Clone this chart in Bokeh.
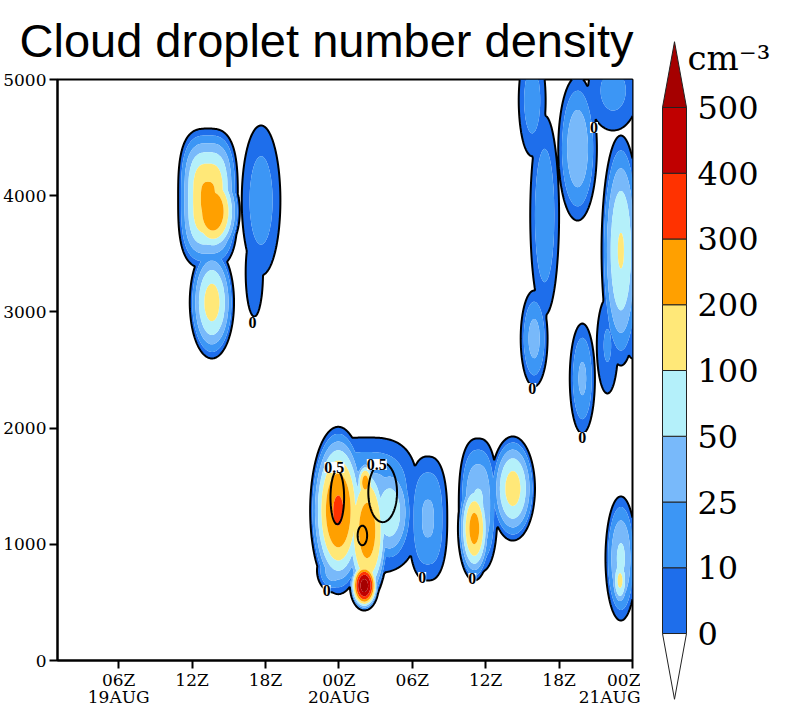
import numpy as np
from bokeh.plotting import figure
from bokeh.layouts import row
from bokeh.models import (Range1d, FixedTicker, LabelSet, ColumnDataSource,
                          LinearAxis)
from bokeh.core.properties import value
from bokeh.embed import file_html
from bokeh.resources import INLINE

# ---------------- data ----------------
# colour levels (cm^-3) and shading colours
levels = [0, 10, 25, 50, 100, 200, 300, 400, 500]
colors = ["#1E6EEB", "#3C96F5", "#78B9FA", "#B4F0FA", "#FFE878",
          "#FFA000", "#FF3200", "#C00000"]
over_color = "#A50000"

# time axis: hours since 00Z 19AUG
tick_hours = [6, 12, 18, 24, 30, 36, 42, 48]
tick_labels = ["06Z", "12Z", "18Z", "00Z", "06Z", "12Z", "18Z", "00Z"]
date_hours = [6, 24, 48]
date_labels = ["19AUG", "20AUG", "21AUG"]
height_ticks = [0, 1000, 2000, 3000, 4000, 5000]

# cloud cells: centre time (h), centre height (m),
# half-width in time (h), half-depth (m), peak density (cm^-3),
# outline shape exponent, profile exponent
cell_t    = [13.30, 13.70, 13.62, 17.64, 17.09,
             26.24, 31.28, 23.95, 26.31, 26.16, 26.08, 28.13, 23.55,
             35.38, 35.07, 38.22, 47.05, 46.98,
             39.80, 40.82, 39.96, 43.51, 46.42, 47.05, 45.95, 48.00, 43.90]
cell_z    = [3976, 3864, 3081, 3959, 3339,
             1334, 1222, 1291, 1119, 1532, 645, 1274, 775,
             1334, 1136, 1480, 878, 688,
             4820, 3830, 2771, 4406, 4905, 3528, 2711, 2943, 2427]
cell_wt   = [2.44, 2.20, 1.81, 1.58, 0.71,
             4.26, 1.58, 2.30, 1.74, 0.79, 1.18, 1.89, 1.34,
             1.58, 1.34, 1.81, 1.26, 0.71,
             1.10, 1.18, 1.10, 1.58, 2.05, 1.58, 0.87, 0.71, 1.03]
cell_wz   = [602, 410, 482, 645, 379,
             585, 534, 720, 620, 189, 215, 448, 189,
             577, 448, 448, 534, 241,
             480, 860, 413, 620, 344, 990, 413, 344, 473]
cell_peak = [230, 295, 150, 18, 8,
             40, 30, 320, 230, 260, 560, 90, 40,
             60, 250, 150, 60, 130,
             18, 22, 35, 45, 15, 110, 12, 10, 30]
cell_n    = [3.0, 2, 2, 2, 2,
             3.0, 2.5, 2, 2, 2, 2, 2, 2,
             2.5, 2, 2, 2, 2,
             2, 2, 2, 2, 2, 2, 2, 2, 2]
cell_p    = [2, 2, 2, 2, 2,
             2, 2, 2, 3, 2, 2, 2, 2,
             2, 2, 2, 2, 2,
             2, 2, 2, 2, 2, 2, 2, 2, 2]

# second field (black 0.5 contours) cells
lwc_t  = [23.87, 27.58, 25.92]
lwc_z  = [1403, 1446, 1076]
lwc_wt = [0.79, 1.66, 0.55]
lwc_wz = [327, 361, 120]

# contour labels
clab_t = [16.93, 39.80, 43.90, 44.85, 23.00, 30.81, 34.91, 23.63, 27.10]
clab_z = [2909, 2341, 1919, 4587, 602, 714, 706, 1661, 1687]
clab_txt = ["0", "0", "0", "0", "0", "0", "0", "0.5", "0.5"]

# ---------------- field construction ----------------
idx = np.arange(len(levels), dtype=float)


def to_index(v):
    v = np.asarray(v, dtype=float)
    return np.where(v <= 500, np.interp(v, levels, idx), 8 + (v - 500) / 100.0)


def to_value(s):
    return np.where(s < 0, s * 10.0,
                    np.where(s <= 8, np.interp(s, idx, levels), 500 + (s - 8) * 100.0))


t = np.linspace(1, 48, 471)
z = np.linspace(0, 5000, 501)
T, Z = np.meshgrid(t, z)

S = np.full(T.shape, -1e6)
for tc, zc, wt, wz, pk, n, pp in zip(cell_t, cell_z, cell_wt, cell_wz, cell_peak, cell_n, cell_p):
    r = (np.abs((T - tc) / wt) ** n + np.abs((Z - zc) / wz) ** n) ** (1.0 / n)
    S = np.maximum(S, float(to_index(pk)) * (1 - r ** pp))
V = to_value(S)

Q = np.full(T.shape, -1e6)
for tc, zc, wt, wz in zip(lwc_t, lwc_z, lwc_wt, lwc_wz):
    r2 = ((T - tc) / wt) ** 2 + ((Z - zc) / wz) ** 2
    Q = np.maximum(Q, 1 - r2)

# ---------------- main figure ----------------
p = figure(frame_width=575, frame_height=581, x_range=Range1d(1, 48), y_range=Range1d(0, 5000),
           output_backend="svg", toolbar_location=None,
           min_border_left=10, min_border_right=8, min_border_top=79, min_border_bottom=44)

p.contour(t, z, V, levels=levels + [100000], fill_color=colors + [over_color])
p.contour(t, z, V, levels=[0.0], line_color="black", line_width=2)
p.contour(t, z, Q, levels=[0.5], line_color="black", line_width=2)

src = ColumnDataSource(dict(t=clab_t, z=clab_z, txt=clab_txt))
p.add_layout(LabelSet(x="t", y="z", text="txt", source=src, text_align="center",
                      text_baseline="middle", text_font="DejaVu Sans Mono",
                      text_font_style="bold", text_font_size="16px",
                      background_fill_color="white", text_color="black"))

p.title.text = "Cloud droplet number density"
p.title.text_font = "Liberation Sans"
p.title.text_font_size = "47px"
p.title.text_font_style = "normal"
p.title.text_color = "black"
p.title.align = "left"
p.title.vertical_align = "top"
p.title.offset = -38
p.title.standoff = 22

p.xaxis.ticker = FixedTicker(ticks=tick_hours)
p.xaxis.major_label_overrides = {h: lab for h, lab in zip(tick_hours, tick_labels)}
p.yaxis.ticker = FixedTicker(ticks=height_ticks)

date_axis = LinearAxis(ticker=FixedTicker(ticks=date_hours),
                       major_label_overrides={h: lab for h, lab in zip(date_hours, date_labels)})
p.add_layout(date_axis, "below")

for ax in (p.xaxis[0], p.yaxis[0]):
    ax.axis_line_width = 2
    ax.axis_line_color = "black"
    ax.major_tick_line_width = 2
    ax.major_tick_line_color = "black"
    ax.major_tick_out = 8
    ax.major_tick_in = 0
    ax.minor_tick_out = 0
    ax.minor_tick_in = 0
    ax.major_label_text_font = "DejaVu Serif"
    ax.major_label_text_font_size = "17px"
    ax.major_label_text_color = "black"
    ax.major_label_standoff = 3
p.xaxis[0].major_label_standoff = 1
date_axis.axis_line_color = None
date_axis.major_tick_line_color = None
date_axis.minor_tick_line_color = None
date_axis.major_tick_out = 0
date_axis.major_tick_in = 0
date_axis.minor_tick_out = 0
date_axis.minor_tick_in = 0
date_axis.major_label_standoff = -6
date_axis.major_label_text_font = "DejaVu Serif"
date_axis.major_label_text_font_size = "17px"
date_axis.major_label_text_color = "black"

p.grid.visible = False
p.outline_line_color = "black"
p.outline_line_width = 2
p.background_fill_color = "white"

# ---------------- colour bar ----------------
cb = figure(frame_width=130, frame_height=716, x_range=Range1d(0, 130),
            y_range=Range1d(-1.262, 9.627),
            output_backend="svg", toolbar_location=None,
            min_border_left=0, min_border_right=0, min_border_top=0, min_border_bottom=0)
for fig in (p, cb):
    if "frame_align" in fig.properties():
        fig.frame_align = False
cb.axis.visible = False
cb.grid.visible = False
cb.outline_line_color = None
cb.quad(left=22, right=46, bottom=idx[:-1], top=idx[1:], fill_color=colors,
        line_color="#222222", line_width=1)
cb.patch([22, 46, 34], [idx[-1], idx[-1], idx[-1] + 1], fill_color=over_color,
         line_color="#222222", line_width=1)
cb.patch([22, 46, 34], [idx[0], idx[0], idx[0] - 1], fill_color="white",
         line_color="#222222", line_width=1)
cb.text(x=57, y=idx, text=[str(l) for l in levels], text_font=value("DejaVu Serif"),
        text_font_size="32px", text_baseline="middle", text_align="left", text_color="black")
cb.text(x=[47], y=[8.76], text=["cm⁻³"], text_font=value("DejaVu Serif"),
        text_font_size="34px", text_baseline="alphabetic", text_align="left", text_color="black")

layout = row(p, cb)
open("out.html", "w").write(file_html(layout, INLINE))
